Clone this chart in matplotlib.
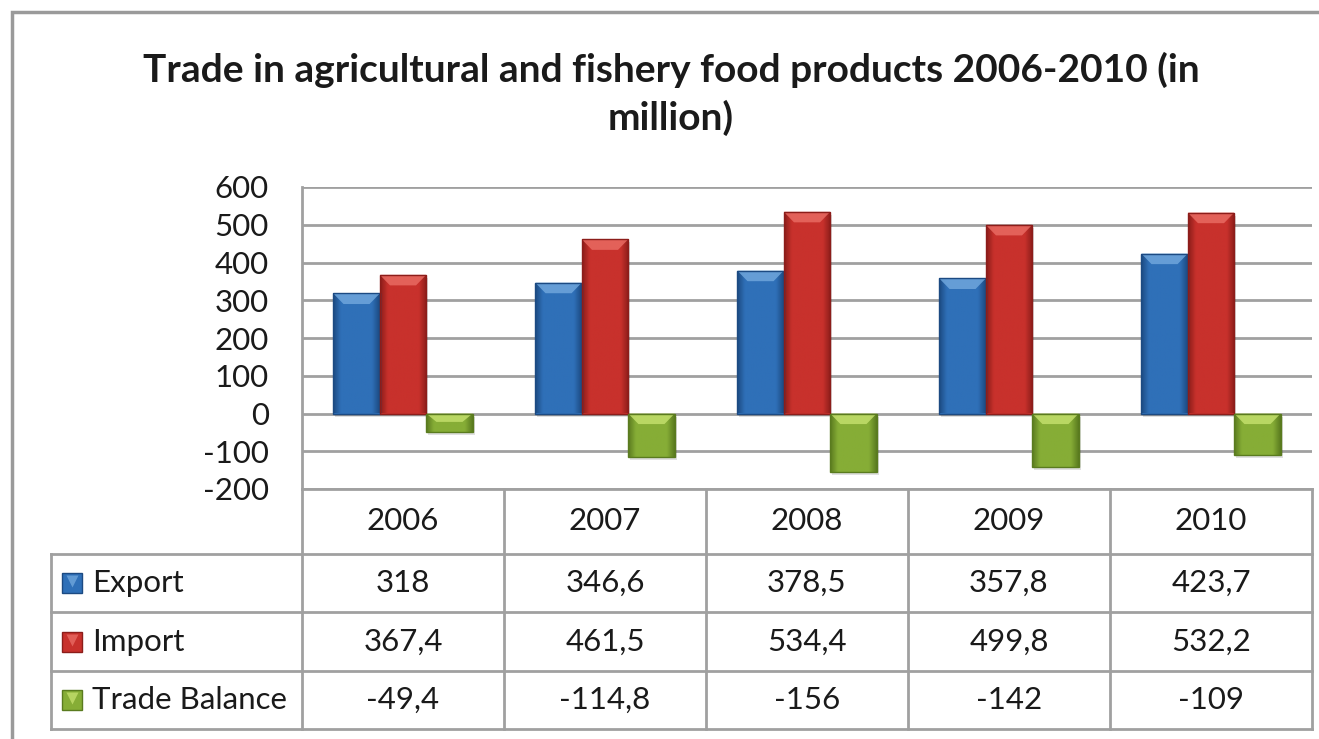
import numpy as np
import matplotlib
matplotlib.use("Agg")
import matplotlib.pyplot as plt
from matplotlib.colors import to_rgb
from matplotlib.patches import Polygon, Rectangle
from matplotlib.transforms import blended_transform_factory

plt.rcParams['font.family'] = ['Lato', 'DejaVu Sans']
plt.rcParams['axes.unicode_minus'] = False

years = ['2006', '2007', '2008', '2009', '2010']
export = [318, 346.6, 378.5, 357.8, 423.7]
imports = [367.4, 461.5, 534.4, 499.8, 532.2]
balance = [-49.4, -114.8, -156, -142, -109]
series_names = ['Export', 'Import', 'Trade Balance']
yticks = [-200, -100, 0, 100, 200, 300, 400, 500, 600]

# (dark, base, light) per series
palette = [('#1c4a82', '#2f70b8', '#6fa6dc'),
           ('#8c1d1a', '#c8312c', '#e86a62'),
           ('#5a7b1f', '#86ad36', '#c3df6c')]
grid_col = '#a0a0a0'
txt_col = '#1a1a1a'
fs = 22.5

W, H = 1319, 739
fig = plt.figure(figsize=(W / 100, H / 100), dpi=100)
fig.patches.append(Rectangle((12 / W, -0.1), 1.2, 1 - 12 / H + 0.1, transform=fig.transFigure,
                             fill=False, edgecolor='#9a9a9a', linewidth=2.5))

# plot area in pixels: x 302..1312, y 187..489
AX_L, AX_R, AX_T, AX_B = 302, 1312, 187, 489
ax = fig.add_axes([AX_L / W, 1 - AX_B / H, (AX_R - AX_L) / W, (AX_B - AX_T) / H])
fig.text(671 / W, 1 - 70 / H, 'Trade in agricultural and fishery food products 2006-2010 (in',
         ha='center', va='center', fontsize=28, fontweight='bold', color=txt_col)
fig.text(671 / W, 1 - 118 / H, 'million)', ha='center', va='center',
         fontsize=28, fontweight='bold', color=txt_col)


def fmt(v):
    return f"{v:g}".replace('.', ',')


def shade_bar(bar, dark, base, light):
    x0, y0 = bar.get_x(), bar.get_y()
    w, h = bar.get_width(), bar.get_height()
    y_lo, y_hi = min(y0, y0 + h), max(y0, y0 + h)
    d, b = np.array(to_rgb(dark)), np.array(to_rgb(base))
    t = np.linspace(0, 1, 64)
    mix = np.clip(np.minimum(t, 1 - t) * 6, 0, 1)[:, None]
    grad = (d + (b - d) * mix)[None, :, :]
    im = ax.imshow(grad, extent=[x0, x0 + w, y_lo, y_hi], aspect='auto', zorder=3,
                   interpolation='bilinear')
    im.set_clip_path(bar)
    # light bevel at the top edge of the bar
    bev = min(28, (y_hi - y_lo) * 0.45)
    ax.add_patch(Polygon([[x0, y_hi], [x0 + w, y_hi], [x0 + w * 0.78, y_hi - bev],
                          [x0 + w * 0.22, y_hi - bev]], closed=True,
                         facecolor=light, edgecolor='none', alpha=0.85, zorder=4))
    ax.add_patch(Rectangle((x0 + w * 0.04, y_lo - 8), w, y_hi - y_lo, facecolor='#000000',
                           alpha=0.12, edgecolor='none', zorder=2))
    ax.add_patch(Rectangle((x0, y_lo), w, y_hi - y_lo, fill=False, edgecolor=dark,
                           linewidth=1, zorder=5))


x = np.arange(len(years))
bw = 0.23
for i, (vals, cols) in enumerate(zip([export, imports, balance], palette)):
    bars = ax.bar(x + (i - 1) * bw, vals, bw, color=cols[1], zorder=3)
    for bar in bars:
        shade_bar(bar, *cols)

ax.set_xlim(-0.5, len(years) - 0.5)
ax.set_ylim(-200, 600)
ax.set_yticks(yticks)
ax.set_yticklabels([fmt(v) for v in yticks], fontsize=fs, color=txt_col)
ax.tick_params(axis='y', length=0, pad=24)
ax.set_xticks([])
ax.grid(axis='y', color=grid_col, linewidth=2, zorder=0)
ax.set_axisbelow(True)
for s in ['top', 'right', 'bottom']:
    ax.spines[s].set_visible(False)
ax.spines['left'].set_color(grid_col)
ax.spines['left'].set_linewidth(2)

# data table below the plot, rows given in pixels below the plot bottom
row_edges_px = [AX_B, 554, 612, 671, 729]
label_left_px = 51


def ay(py):
    return (AX_B - py) / (AX_B - AX_T)


def axx(px):
    return (px - AX_L) / (AX_R - AX_L)


bt = blended_transform_factory(ax.transData, ax.transAxes)
line_kw = dict(color=grid_col, linewidth=2, clip_on=False, solid_capstyle='projecting')
# vertical cell borders on the category boundaries
for j in range(len(years) + 1):
    ax.plot([j - 0.5, j - 0.5], [ay(row_edges_px[0]), ay(row_edges_px[-1])],
            transform=bt, **line_kw)
ax.plot([axx(label_left_px)] * 2, [ay(row_edges_px[1]), ay(row_edges_px[-1])],
        transform=ax.transAxes, **line_kw)
ax.plot([0, 1], [ay(row_edges_px[0])] * 2, transform=ax.transAxes, **line_kw)
for py in row_edges_px[1:]:
    ax.plot([axx(label_left_px), 1], [ay(py)] * 2, transform=ax.transAxes, **line_kw)

# header row
yc_head = ay((row_edges_px[0] + row_edges_px[1]) / 2)
for j, yr in enumerate(years):
    ax.text(j, yc_head, yr, transform=bt, ha='center', va='center', fontsize=fs,
            color=txt_col)

# value rows with legend keys
for i, (name, vals, cols) in enumerate(zip(series_names, [export, imports, balance], palette)):
    yc = ay((row_edges_px[i + 1] + row_edges_px[i + 2]) / 2)
    ax.plot([axx(72)], [yc], marker='s', markersize=14.5, color=cols[1],
            markeredgecolor=cols[0], transform=ax.transAxes, clip_on=False)
    ax.plot([axx(72)], [yc + 0.006], marker='v', markersize=8, color=cols[2],
            markeredgecolor='none', transform=ax.transAxes, clip_on=False, alpha=0.8)
    ax.text(axx(92), yc, name, transform=ax.transAxes, ha='left', va='center',
            fontsize=fs, color=txt_col)
    for j, v in enumerate(vals):
        ax.text(j, yc, fmt(v), transform=bt, ha='center', va='center', fontsize=fs,
                color=txt_col)

fig.savefig('out.png', dpi=100)
